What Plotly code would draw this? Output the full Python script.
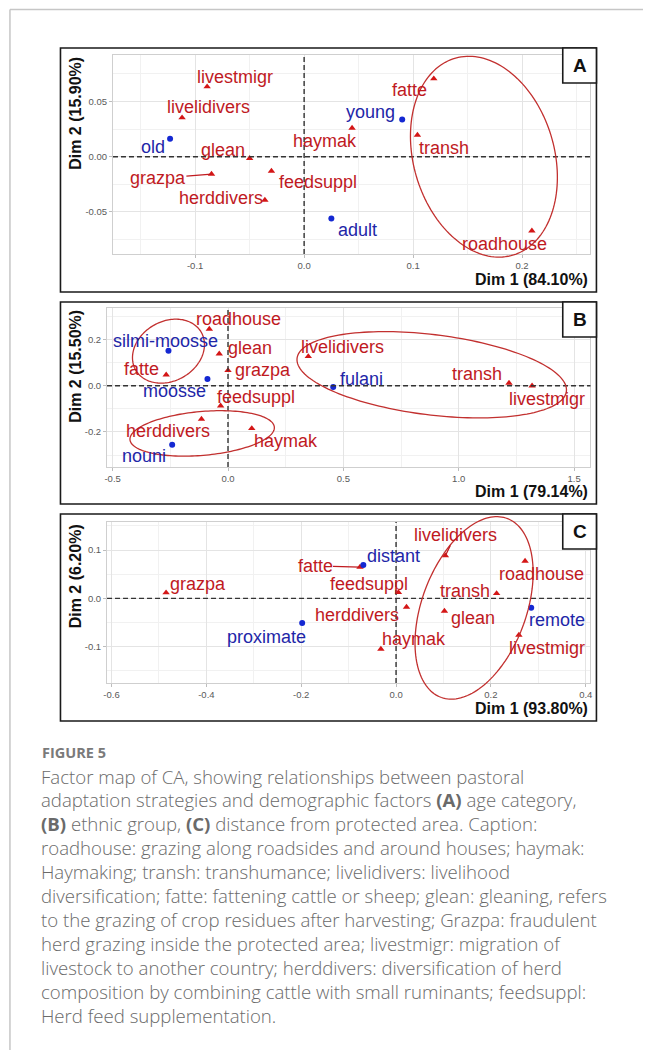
import numpy as np
import plotly.graph_objects as go

W, H = 645, 1050

# ---------------- data: CA coordinates ----------------
# Panel A: age category
A_ROW_NAMES = ["livestmigr", "livelidivers", "glean", "grazpa", "feedsuppl",
               "herddivers", "haymak", "fatte", "transh", "roadhouse"]
A_ROW_X = [-0.089, -0.112, -0.050, -0.085, -0.030, -0.036, 0.044, 0.119, 0.104, 0.209]
A_ROW_Y = [0.0634, 0.0353, -0.0015, -0.0157, -0.0130, -0.0393, 0.0260, 0.0707, 0.0196, -0.0671]
A_COL_NAMES = ["old", "young", "adult"]
A_COL_X = [-0.123, 0.090, 0.025]
A_COL_Y = [0.0163, 0.0338, -0.0559]
A_ELLIPSES = [(0.165, 0.0, 0.093, 0.0645, -73.0)]  # cx, cy, a, b, angle

# Panel B: ethnic group
B_ROW_NAMES = ["roadhouse", "glean", "fatte", "grazpa", "feedsuppl",
               "herddivers", "haymak", "livelidivers", "transh", "livestmigr"]
B_ROW_X = [-0.081, -0.038, -0.268, 0.000, -0.032, -0.115, 0.103, 0.348, 1.218, 1.318]
B_ROW_Y = [0.2455, 0.1386, 0.0477, 0.0664, -0.0866, -0.1444, -0.1848, 0.1271, 0.0116, 0.0]
B_COL_NAMES = ["silmi-moosse", "moosse", "fulani", "nouni"]
B_COL_X = [-0.258, -0.089, 0.456, -0.242]
B_COL_Y = [0.1516, 0.0289, -0.0058, -0.2556]
B_ELLIPSES = [(-0.258, 0.150, 0.164, 0.129, 30.0),
              (-0.112, -0.2065, 0.314, 0.095, 5.0),
              (0.883, 0.0477, 0.588, 0.174, -7.0)]

# Panel C: distance from protected area
C_ROW_NAMES = ["grazpa", "fatte", "feedsuppl", "herddivers", "haymak",
               "livelidivers", "glean", "transh", "roadhouse", "livestmigr"]
C_ROW_X = [-0.485, -0.076, 0.005, 0.022, -0.032, 0.104, 0.102, 0.212, 0.272, 0.259]
C_ROW_Y = [0.0117, 0.0648, 0.0124, -0.0179, -0.1048, 0.0883, -0.0262, 0.0103, 0.0772, -0.0759]
C_COL_NAMES = ["proximate", "distant", "remote"]
C_COL_X = [-0.198, -0.069, 0.285]
C_COL_Y = [-0.051, 0.069, -0.0193]
C_ELLIPSES = [(0.1645, -0.0197, 0.1977, 0.1097, 69.0)]

# axis titles and ticks
A_XTITLE, A_YTITLE = "Dim 1 (84.10%)", "Dim 2 (15.90%)"
B_XTITLE, B_YTITLE = "Dim 1 (79.14%)", "Dim 2 (15.50%)"
C_XTITLE, C_YTITLE = "Dim 1 (93.80%)", "Dim 2 (6.20%)"
A_XTICKS = [-0.1, 0.0, 0.1, 0.2]
A_XTICKTEXT = ["-0.1", "0.0", "0.1", "0.2"]
A_YTICKS = [-0.05, 0.0, 0.05]
A_YTICKTEXT = ["-0.05", "0.00", "0.05"]
B_XTICKS = [-0.5, 0.0, 0.5, 1.0, 1.5]
B_XTICKTEXT = ["-0.5", "0.0", "0.5", "1.0", "1.5"]
B_YTICKS = [-0.2, 0.0, 0.2]
B_YTICKTEXT = ["-0.2", "0.0", "0.2"]
C_XTICKS = [-0.6, -0.4, -0.2, 0.0, 0.2, 0.4]
C_XTICKTEXT = ["-0.6", "-0.4", "-0.2", "0.0", "0.2", "0.4"]
C_YTICKS = [-0.1, 0.0, 0.1]
C_YTICKTEXT = ["-0.1", "0.0", "0.1"]

CAPTION_LINES = [
    "Factor map of CA, showing relationships between pastoral",
    "adaptation strategies and demographic factors <b>(A)</b> age category,",
    "<b>(B)</b> ethnic group, <b>(C)</b> distance from protected area. Caption:",
    "roadhouse: grazing along roadsides and around houses; haymak:",
    "Haymaking; transh: transhumance; livelidivers: livelihood",
    "diversification; fatte: fattening cattle or sheep; glean: gleaning, refers",
    "to the grazing of crop residues after harvesting; Grazpa: fraudulent",
    "herd grazing inside the protected area; livestmigr: migration of",
    "livestock to another country; herddivers: diversification of herd",
    "composition by combining cattle with small ruminants; feedsuppl:",
    "Herd feed supplementation.",
]

# ---------------- layout: label placement (pixel offsets, connector flag) ----------------
A_LABEL_POS = {"livestmigr": (27.5, -10, 0), "livelidivers": (26.8, -10.3, 0), "old": (-17.5, 8.7, 0),
               "glean": (-26.8, -8.3, 0), "grazpa": (-53.6, 4.3, 1), "herddivers": (-43.9, -1.7, 0),
               "feedsuppl": (46.1, 11.3, 0), "haymak": (-26.8, 12.7, 0), "young": (-31.4, -7, 0),
               "fatte": (-24.3, 11.3, 0), "transh": (26.8, 12.7, 0), "adult": (25.7, 12, 0),
               "roadhouse": (-27.5, 13.3, 0)}
B_LABEL_POS = {"roadhouse": (29.6, -10, 0), "silmi-moosse": (-3.2, -10, 0), "glean": (31.1, -5.7, 0),
               "fatte": (-24.3, -6, 0), "grazpa": (34.6, -0.7, 0), "moosse": (-33.2, 12.3, 0),
               "feedsuppl": (35.7, -8.7, 0), "livelidivers": (33.9, -9.3, 0), "fulani": (27.9, -8, 0),
               "transh": (-31.8, -9, 0), "livestmigr": (14.6, 13.3, 0), "herddivers": (-33.2, 12.3, 0),
               "haymak": (33.9, 13, 0), "nouni": (-28.6, 11, 0)}
C_LABEL_POS = {"grazpa": (32.1, -8.3, 0), "proximate": (-35.7, 14.3, 0), "fatte": (-45, -1.3, 1),
               "distant": (30.4, -9.3, 0), "feedsuppl": (-29.3, -8, 0), "herddivers": (-49.3, 8, 0),
               "haymak": (33.2, -9.7, 0), "livelidivers": (10, -20.7, 1), "transh": (-32.1, -2.3, 0),
               "glean": (28.6, 7.3, 0), "roadhouse": (16.8, 13.3, 0), "remote": (25.7, 12.3, 0),
               "livestmigr": (27.9, 12.7, 0)}

RED_MARK, BLUE_MARK = "#d41616", "#1428d2"
RED_TEXT, BLUE_TEXT = "#c01a1f", "#1e26a8"
ELL_COLOR = "#c2302f"
LABEL_FONT = "Liberation Sans, Arial, sans-serif"
CAPTION_FONT = "Open Sans, sans-serif"

panels = [
    dict(tag="A", plot=(110, 55, 592, 254), frame=(57, 48, 598, 292), xr=(-0.1754, 0.2628), yr=(-0.0881, 0.0921),
         xt=A_XTICKS, xtt=A_XTICKTEXT, yt=A_YTICKS, ytt=A_YTICKTEXT, xdt=0.05, ydt=0.025,
         rows=(A_ROW_NAMES, A_ROW_X, A_ROW_Y), cols=(A_COL_NAMES, A_COL_X, A_COL_Y),
         ell=A_ELLIPSES, lab=A_LABEL_POS, xtitle=A_XTITLE, ytitle=A_YTITLE, xtitle_y=280),
    dict(tag="B", plot=(104, 308, 592, 467), frame=(57, 302, 598, 504), xr=(-0.5243, 1.5711), yr=(-0.352, 0.337),
         xt=B_XTICKS, xtt=B_XTICKTEXT, yt=B_YTICKS, ytt=B_YTICKTEXT, xdt=0.25, ydt=0.1,
         rows=(B_ROW_NAMES, B_ROW_X, B_ROW_Y), cols=(B_COL_NAMES, B_COL_X, B_COL_Y),
         ell=B_ELLIPSES, lab=B_LABEL_POS, xtitle=B_XTITLE, ytitle=B_YTITLE, xtitle_y=491),
    dict(tag="C", plot=(104, 522, 592, 683), frame=(57, 514, 598, 721), xr=(-0.6095, 0.410), yr=(-0.175, 0.158),
         xt=C_XTICKS, xtt=C_XTICKTEXT, yt=C_YTICKS, ytt=C_YTICKTEXT, xdt=0.1, ydt=0.05,
         rows=(C_ROW_NAMES, C_ROW_X, C_ROW_Y), cols=(C_COL_NAMES, C_COL_X, C_COL_Y),
         ell=C_ELLIPSES, lab=C_LABEL_POS, xtitle=C_XTITLE, ytitle=C_YTITLE, xtitle_y=708),
]


def px(x):
    return x / W


def py(y):
    return 1 - y / H


def ellipse_path(cx, cy, a, b, ang, yr, n=160):
    t = np.linspace(0, 2 * np.pi, n)
    th = np.deg2rad(ang)
    xs = cx + a * np.cos(t) * np.cos(th) - b * np.sin(t) * np.sin(th)
    ys = cy + a * np.cos(t) * np.sin(th) + b * np.sin(t) * np.cos(th)
    yf = (ys - yr[0]) / (yr[1] - yr[0])
    pts = [f"{x:.5f},{y:.5f}" for x, y in zip(xs, yf)]
    return "M " + " L ".join(pts) + " Z"


fig = go.Figure()
shapes, annotations = [], []
layout_axes = {}

# card border (top and left)
shapes.append(dict(type="line", xref="paper", yref="paper", x0=px(6), x1=1.0, y0=py(9.5), y1=py(9.5),
                   line=dict(color="#c6c6c6", width=1.5)))
shapes.append(dict(type="line", xref="paper", yref="paper", x0=px(6), x1=px(6), y0=py(9.5), y1=0.0,
                   line=dict(color="#c6c6c6", width=1.5)))

for i, p in enumerate(panels):
    k = "" if i == 0 else str(i + 1)
    xa, ya = "x" + k, "y" + k
    l, t, r, b = p["plot"]
    axis_common = dict(showgrid=True, gridcolor="#e4e4e4", gridwidth=1, zeroline=False,
                       showline=True, mirror=True, linecolor="#cfcfcf", linewidth=1,
                       ticks="outside", ticklen=3, tickcolor="#bdbdbd", tickwidth=1,
                       tickfont=dict(family=LABEL_FONT, size=9.5, color="#5a5a5a"),
                       fixedrange=True, tickmode="array")
    layout_axes["xaxis" + k] = dict(axis_common, domain=[px(l), px(r)], range=list(p["xr"]),
                                    tickvals=p["xt"], ticktext=p["xtt"], anchor=ya,
                                    minor=dict(tickmode="linear", tick0=0, dtick=p["xdt"], showgrid=True,
                                               gridcolor="#f1f1f1", gridwidth=0.7, ticks=""))
    layout_axes["yaxis" + k] = dict(axis_common, domain=[py(b), py(t)], range=list(p["yr"]),
                                    tickvals=p["yt"], ticktext=p["ytt"], anchor=xa,
                                    minor=dict(tickmode="linear", tick0=0, dtick=p["ydt"], showgrid=True,
                                               gridcolor="#f1f1f1", gridwidth=0.7, ticks=""))

    # dashed reference lines through the origin
    shapes.append(dict(type="line", xref=xa, yref=ya + " domain", x0=0, x1=0, y0=0, y1=1,
                       line=dict(color="#333333", width=1.4, dash="5px,3px"), layer="above"))
    shapes.append(dict(type="line", xref=xa + " domain", yref=ya, x0=0, x1=1, y0=0, y1=0,
                       line=dict(color="#333333", width=1.4, dash="5px,3px"), layer="above"))

    # confidence ellipses
    for (cx, cy, ea, eb, ang) in p["ell"]:
        shapes.append(dict(type="path", xref=xa, yref=ya + " domain",
                           path=ellipse_path(cx, cy, ea, eb, ang, p["yr"]),
                           line=dict(color=ELL_COLOR, width=1.3), layer="above"))

    rn, rx, ry = p["rows"]
    cn, cxs, cys = p["cols"]
    fig.add_trace(go.Scatter(x=rx, y=ry, mode="markers", xaxis=xa, yaxis=ya, showlegend=False,
                             marker=dict(symbol="triangle-up", size=6.5, color=RED_MARK), hoverinfo="skip"))
    fig.add_trace(go.Scatter(x=cxs, y=cys, mode="markers", xaxis=xa, yaxis=ya, showlegend=False,
                             marker=dict(symbol="circle", size=6, color=BLUE_MARK), hoverinfo="skip"))

    # repelled text labels
    for names, xs, ys, col in ((rn, rx, ry, RED_TEXT), (cn, cxs, cys, BLUE_TEXT)):
        for name, x, y in zip(names, xs, ys):
            dx, dy, conn = p["lab"][name]
            font = dict(family=LABEL_FONT, size=18, color=col)
            if conn:
                annotations.append(dict(x=x, y=y, xref=xa, yref=ya, text=name, font=font,
                                        showarrow=True, arrowhead=0, arrowwidth=1.3, arrowcolor=col,
                                        ax=dx, ay=dy, axref="pixel", ayref="pixel", borderpad=0,
                                        standoff=0))
            else:
                annotations.append(dict(x=x, y=y, xref=xa, yref=ya, text=name, font=font,
                                        showarrow=False, xshift=dx, yshift=-dy,
                                        xanchor="center", yanchor="middle"))

    # axis titles
    annotations.append(dict(x=px(591), y=py(p["xtitle_y"]), xref="paper", yref="paper", text=p["xtitle"],
                            showarrow=False, xanchor="right", yanchor="middle",
                            font=dict(family=LABEL_FONT, size=16, color="#111111", weight="bold")))
    annotations.append(dict(x=px(72), y=py(t), xref="paper", yref="paper", text=p["ytitle"],
                            showarrow=False, xanchor="center", yanchor="top", textangle=-90,
                            font=dict(family=LABEL_FONT, size=16, color="#111111", weight="bold")))

    # panel frame and tag box
    fl, ft, fr, fb = p["frame"]
    shapes.append(dict(type="rect", xref="paper", yref="paper", x0=px(fl), x1=px(fr), y0=py(fb), y1=py(ft),
                       line=dict(color="#1a1a1a", width=1.6), layer="above"))
    shapes.append(dict(type="rect", xref="paper", yref="paper", x0=px(fr - 34), x1=px(fr), y0=py(ft + 35),
                       y1=py(ft), line=dict(color="#1a1a1a", width=1.6), fillcolor="white", layer="above"))
    annotations.append(dict(x=px(fr - 17), y=py(ft + 17.5), xref="paper", yref="paper", text=p["tag"],
                            showarrow=False, xanchor="center", yanchor="middle",
                            font=dict(family=LABEL_FONT, size=19, color="#111111", weight="bold")))

# figure caption
annotations.append(dict(x=px(36), y=py(752), xref="paper", yref="paper", text="FIGURE 5",
                        showarrow=False, xanchor="left", yanchor="middle",
                        font=dict(family=CAPTION_FONT, size=14.5, color="#7a7a7a", weight="bold")))
CAPTION_TOP, CAPTION_STEP = 776, 23.9
for j, line in enumerate(CAPTION_LINES):
    annotations.append(dict(x=px(35), y=py(CAPTION_TOP + j * CAPTION_STEP), xref="paper", yref="paper",
                            text=line, showarrow=False, xanchor="left", yanchor="middle",
                            font=dict(family=CAPTION_FONT, size=18.6, color="#6a6a6a", weight=300)))

fig.update_layout(width=W, height=H, margin=dict(l=0, r=0, t=0, b=0),
                  paper_bgcolor="white", plot_bgcolor="white",
                  shapes=shapes, annotations=annotations, **layout_axes)

fig.write_html("out.html")
